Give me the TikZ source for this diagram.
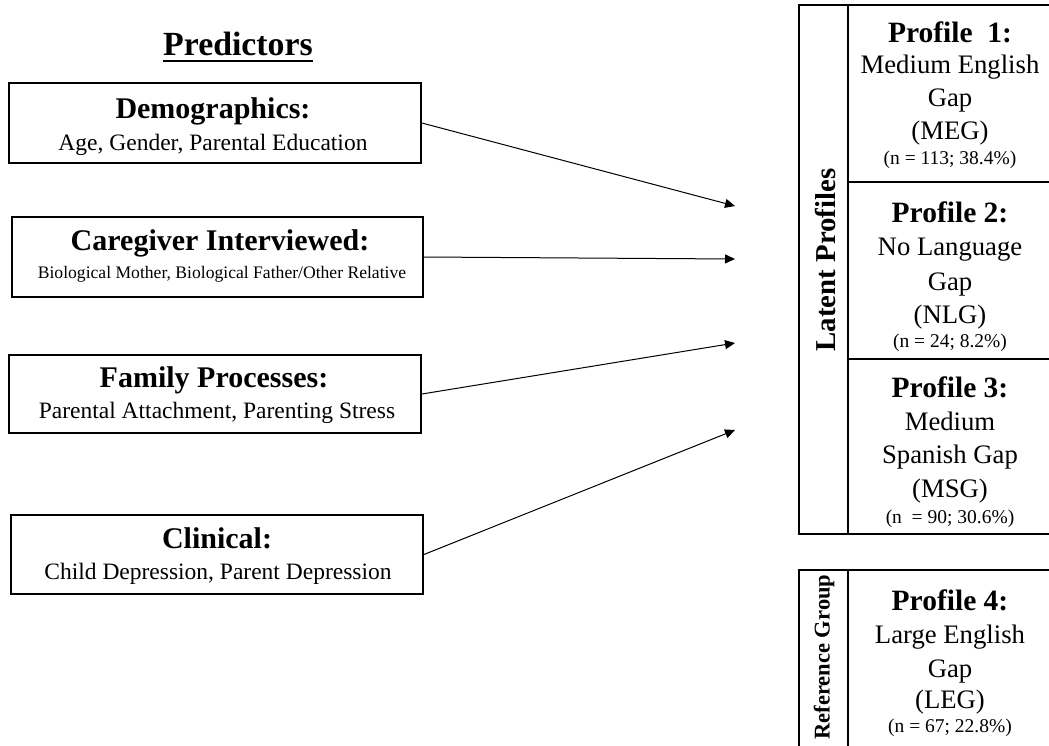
\documentclass[tikz,border=0pt]{standalone}
\usepackage{fontspec}
\setmainfont{Liberation Serif}
\usetikzlibrary{arrows.meta}
\tikzset{
  pbox/.style={draw, line width=1.8pt, rectangle, inner sep=0pt},
  rbox/.style={line width=2.2pt},
  conn/.style={line width=1pt, -{Triangle[length=10pt,width=9pt]}},
  txt/.style={anchor=base, inner sep=0pt},
  hd/.style={txt, font=\fontsize{30}{36}\selectfont\bfseries},
  bd/.style={txt, font=\fontsize{23.5}{28}\selectfont},
  sm/.style={txt, font=\fontsize{17.6}{21}\selectfont},
  ph/.style={txt, font=\fontsize{29.5}{35}\selectfont\bfseries},
  pr/.style={txt, font=\fontsize{26.7}{32}\selectfont},
  pn/.style={txt, font=\fontsize{19.5}{23}\selectfont},
}
\begin{document}
\begin{tikzpicture}[x=1pt,y=-1pt]
\useasboundingbox (0,0) rectangle (1049,745);
\fill[white] (0,0) rectangle (1049,745);

% title
\node[txt, font=\fontsize{33.8}{40}\selectfont\bfseries] (pred) at (238,55) {Predictors};
\draw[line width=2pt] ([xshift=-0.5pt,yshift=-6pt]pred.base west) -- ([xshift=0.5pt,yshift=-6pt]pred.base east);

% predictor boxes
\node[pbox, minimum width=412, minimum height=80] (demo) at (215,123) {};
\node[hd] (demoH) at (213,118) {Demographics:};
\node[bd] (demoB) at (213,150) {Age, Gender, Parental Education};

\node[pbox, minimum width=411, minimum height=80] (care) at (217.5,257) {};
\node[hd] (careH) at (220,250) {Caregiver Interviewed:};
\node[sm] (careB) at (222,278) {Biological Mother, Biological Father/Other Relative};

\node[pbox, minimum width=412, minimum height=78] (fam) at (215,394) {};
\node[hd] (famH) at (214,387) {Family Processes:};
\node[bd] (famB) at (217,418) {Parental Attachment, Parenting Stress};

\node[pbox, minimum width=412, minimum height=79] (clin) at (217,554.5) {};
\node[hd] (clinH) at (217,548) {Clinical:};
\node[bd] (clinB) at (218,579) {Child Depression, Parent Depression};

% arrow targets
\coordinate (t1) at (735,206);
\coordinate (t2) at (735,259);
\coordinate (t3) at (735,343);
\coordinate (t4) at (735,430);
\draw[conn] (demo.east) -- (t1);
\draw[conn] (care.east) -- (t2);
\draw[conn] (fam.east) -- (t3);
\draw[conn] (clin.east) -- (t4);

% latent profiles box
\draw[rbox] (799,5) rectangle (1053,534);
\draw[rbox] (848,5) -- (848,534);
\draw[rbox] (848,182) -- (1053,182);
\draw[rbox] (848,359) -- (1053,359);
\node[txt, font=\fontsize{28.8}{34}\selectfont\bfseries, anchor=center, rotate=90] (lat) at (825,260) {Latent Profiles};

\node[ph] (p1a) at (950,42) {Profile~~1:};
\node[pr] (p1b) at (950,73) {Medium English};
\node[pr] (p1c) at (950,106) {Gap};
\node[pr] (p1d) at (950,139) {(MEG)};
\node[pn] (p1e) at (950,164) {(n = 113; 38.4\%)};

\node[ph] (p2a) at (950,222) {Profile 2:};
\node[pr] (p2b) at (950,255) {No Language};
\node[pr] (p2c) at (950,290) {Gap};
\node[pr] (p2d) at (950,323) {(NLG)};
\node[pn] (p2e) at (950,347) {(n = 24; 8.2\%)};

\node[ph] (p3a) at (950,397) {Profile 3:};
\node[pr] (p3b) at (950,430) {Medium};
\node[pr] (p3c) at (950,463) {Spanish Gap};
\node[pr] (p3d) at (950,497) {(MSG)};
\node[pn] (p3e) at (950,523) {(n~~= 90; 30.6\%)};

% reference group box
\draw[rbox] (799,570) rectangle (1053,760);
\draw[rbox] (848,570) -- (848,760);
\node[txt, font=\fontsize{22.5}{27}\selectfont\bfseries, anchor=center, rotate=90] (ref) at (824,657) {Reference Group};

\node[ph] (p4a) at (950,610) {Profile 4:};
\node[pr] (p4b) at (950,643) {Large English};
\node[pr] (p4c) at (950,677) {Gap};
\node[pr] (p4d) at (950,708) {(LEG)};
\node[pn] (p4e) at (950,732) {(n = 67; 22.8\%)};
\end{tikzpicture}
\end{document}
